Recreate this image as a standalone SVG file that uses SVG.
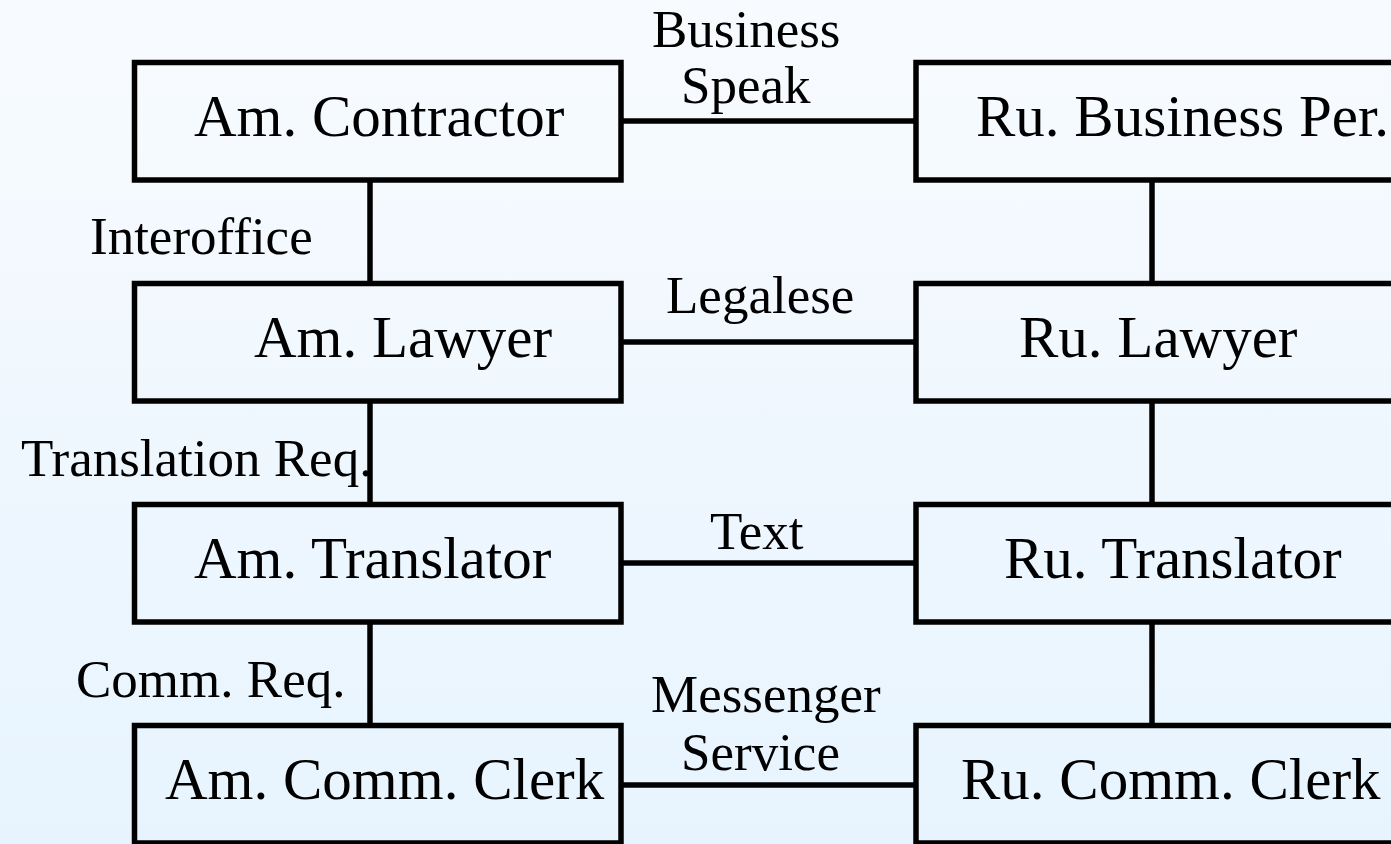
<svg xmlns="http://www.w3.org/2000/svg" width="1391" height="844" viewBox="0 0 1391 844">
<defs>
<linearGradient id="bg" x1="0" y1="0" x2="0" y2="1">
<stop offset="0" stop-color="#f8fbfe"/>
<stop offset="1" stop-color="#e7f4fe"/>
</linearGradient>
<style>
.box{fill:none;stroke:#000;stroke-width:5.5}
.edge{stroke:#000;stroke-width:5.5;fill:none}
.nt{font-family:"Liberation Serif","Times New Roman",serif;font-size:59px;fill:#000}
.lt{font-family:"Liberation Serif","Times New Roman",serif;font-size:53px;fill:#000}
</style>
</defs>
<rect x="0" y="0" width="1391" height="844" fill="url(#bg)"/>
<g id="connectors">
<line class="edge" x1="621" y1="121" x2="916" y2="121"/>
<line class="edge" x1="621" y1="342" x2="916" y2="342"/>
<line class="edge" x1="621" y1="563" x2="916" y2="563"/>
<line class="edge" x1="621" y1="785" x2="916" y2="785"/>
<line class="edge" x1="370" y1="180" x2="370" y2="283.5"/>
<line class="edge" x1="370" y1="401" x2="370" y2="504.5"/>
<line class="edge" x1="370" y1="622" x2="370" y2="725.5"/>
<line class="edge" x1="1152" y1="180" x2="1152" y2="283.5"/>
<line class="edge" x1="1152" y1="401" x2="1152" y2="504.5"/>
<line class="edge" x1="1152" y1="622" x2="1152" y2="725.5"/>
<text class="lt" x="652" y="47">Business</text>
<text class="lt" x="681" y="103">Speak</text>
<text class="lt" x="90" y="254">Interoffice</text>
<text class="lt" x="666" y="313">Legalese</text>
<text class="lt" x="21" y="476">Translation Req.</text>
<text class="lt" x="710" y="549">Text</text>
<text class="lt" x="76" y="697">Comm. Req.</text>
<text class="lt" x="651" y="712">Messenger</text>
<text class="lt" x="681" y="770">Service</text>
</g>
<g id="am-contractor"><rect class="box" x="134.5" y="62.5" width="486.5" height="117.5"/><text class="nt" x="194" y="136">Am. Contractor</text></g>
<g id="ru-business"><rect class="box" x="916" y="62.5" width="486.5" height="117.5"/><text class="nt" x="976" y="136">Ru. Business Per.</text></g>
<g id="am-lawyer"><rect class="box" x="134.5" y="283.5" width="486.5" height="117.5"/><text class="nt" x="254" y="357">Am. Lawyer</text></g>
<g id="ru-lawyer"><rect class="box" x="916" y="283.5" width="486.5" height="117.5"/><text class="nt" x="1019" y="357">Ru. Lawyer</text></g>
<g id="am-translator"><rect class="box" x="134.5" y="504.5" width="486.5" height="117.5"/><text class="nt" x="194" y="578">Am. Translator</text></g>
<g id="ru-translator"><rect class="box" x="916" y="504.5" width="486.5" height="117.5"/><text class="nt" x="1004" y="578">Ru. Translator</text></g>
<g id="am-clerk"><rect class="box" x="134.5" y="725.5" width="486.5" height="117.5"/><text class="nt" x="165" y="799">Am. Comm. Clerk</text></g>
<g id="ru-clerk"><rect class="box" x="916" y="725.5" width="486.5" height="117.5"/><text class="nt" x="961" y="799">Ru. Comm. Clerk</text></g>
</svg>
